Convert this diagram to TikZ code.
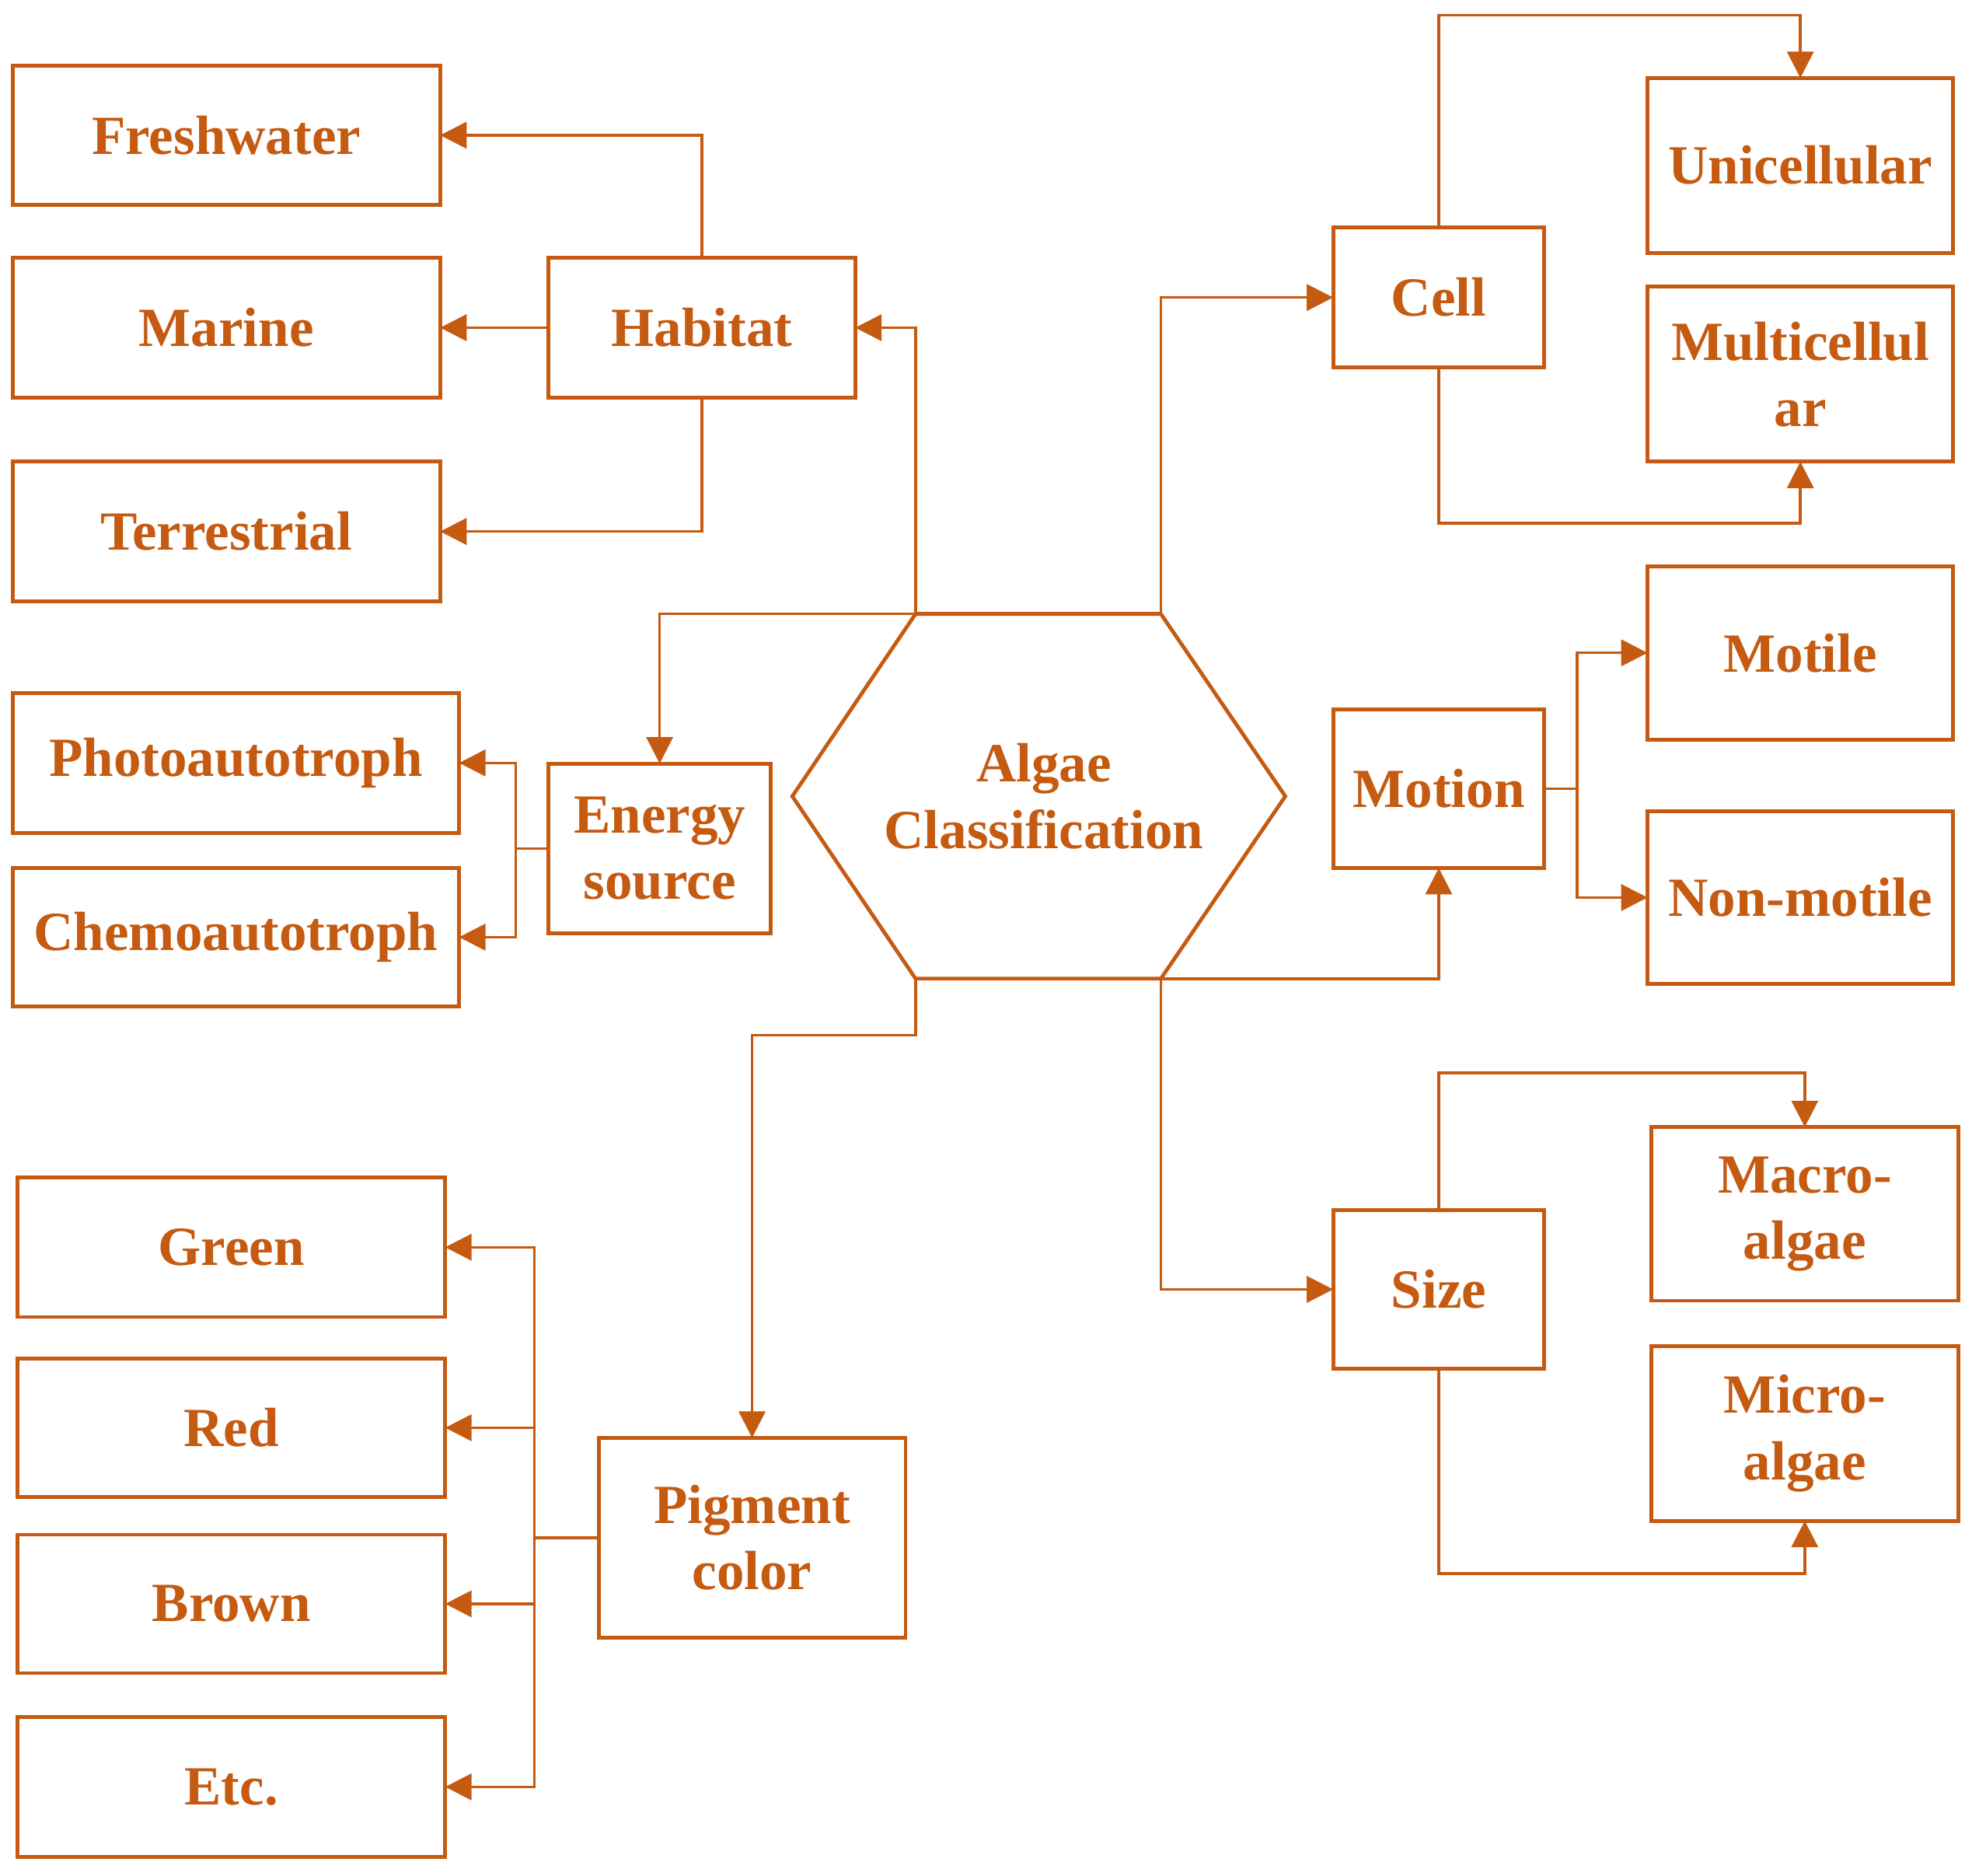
\documentclass[tikz,border=0pt]{standalone}
\usepackage{fontspec}
\setmainfont{Liberation Serif}
\usetikzlibrary{arrows.meta}
\definecolor{oc}{HTML}{C55A11}
\newcommand\mybox[6]{\node[box,minimum width=#4*0.02cm,minimum height=#5*0.02cm] (#1) at (#2,#3) {#6};}
\begin{document}
\begin{tikzpicture}[x=0.02cm,y=-0.02cm,
 box/.style={draw=oc,line width=1.7pt,inner sep=0pt,outer sep=0pt,text=oc,align=center,
   font=\fontsize{25}{30}\selectfont\bfseries},
 ln/.style={draw=oc,line width=1.2pt},
 arr/.style={ln,-{Triangle[length=0.42cm,width=0.42cm]}}]
\useasboundingbox (0,0) rectangle (1568,1491);
\mybox{fw}{180}{107.5}{340}{111}{Freshwater}
\mybox{mar}{180}{260.5}{340}{111}{Marine}
\mybox{ter}{180}{422.5}{340}{111}{Terrestrial}
\mybox{hab}{558}{260.5}{244}{111}{Habitat}
\mybox{ph}{187.5}{606.5}{355}{111}{Photoautotroph}
\mybox{ch}{187.5}{745}{355}{110}{Chemoautotroph}
\mybox{en}{524.5}{674.5}{177}{135}{Energy\\source}
\mybox{gr}{184}{991.5}{340}{111}{Green}
\mybox{red}{184}{1135}{340}{110}{Red}
\mybox{br}{184}{1275}{340}{110}{Brown}
\mybox{etc}{184}{1420.5}{340}{111}{Etc.}
\mybox{pig}{598}{1222.5}{244}{159}{Pigment\\color}
\mybox{cell}{1144}{236.5}{168}{111}{Cell}
\mybox{uni}{1431.5}{131.5}{243}{139}{Unicellular}
\mybox{mul}{1431.5}{297.5}{243}{139}{Multicellul\\ar}
\mybox{mot}{1144}{627}{168}{126}{Motion}
\mybox{motile}{1431.5}{519}{243}{138}{Motile}
\mybox{non}{1431.5}{713.5}{243}{137}{Non-motile}
\mybox{size}{1144}{1025}{168}{126}{Size}
\mybox{mac}{1435}{965}{244}{138}{Macro-\\algae}
\mybox{mic}{1435}{1139.5}{244}{139}{Micro-\\algae}
% hexagon
\coordinate (hl) at (630,633); \coordinate (htl) at (728,488); \coordinate (htr) at (923,488);
\coordinate (hr) at (1022,633); \coordinate (hbr) at (923,778); \coordinate (hbl) at (728,778);
\draw[oc,line width=1.7pt,line join=miter] (hl)--(htl)--(htr)--(hr)--(hbr)--(hbl)--cycle;
\node[box,draw=none] (hex) at (830,633) {Algae\\Classification};
% connectors
\draw[arr] (hab.north) |- (fw.east);
\draw[arr] (hab.west) -- (mar.east);
\draw[arr] (hab.south) |- (ter.east);
\draw[arr] (htl) |- (hab.east);
\draw[arr] (htl) -| (en.north);
\coordinate (ej) at (410,674.5);
\draw[ln] (en.west) -- (ej);
\draw[arr] (ej) |- (ph.east);
\draw[arr] (ej) |- (ch.east);
\coordinate (hb2) at (728,823);
\draw[arr] (hbl) -- (hb2) -| (pig.north);
\coordinate (pj) at (425,1222.5);
\draw[ln] (pig.west) -- (pj);
\draw[arr] (pj) |- (gr.east);
\draw[arr] (pj) |- (red.east);
\draw[arr] (pj) |- (br.east);
\draw[arr] (pj) |- (etc.east);
\draw[arr] (htr) |- (cell.west);
\coordinate (ct) at (1144,12); \coordinate (cb) at (1144,416);
\draw[arr] (cell.north) -- (ct) -| (uni.north);
\draw[arr] (cell.south) -- (cb) -| (mul.south);
\draw[arr] (hbr) -| (mot.south);
\coordinate (mj) at (1254,627);
\draw[ln] (mot.east) -- (mj);
\draw[arr] (mj) |- (motile.west);
\draw[arr] (mj) |- (non.west);
\draw[arr] (hbr) |- (size.west);
\coordinate (st) at (1144,853); \coordinate (sb) at (1144,1251);
\draw[arr] (size.north) -- (st) -| (mac.north);
\draw[arr] (size.south) -- (sb) -| (mic.south);
\end{tikzpicture}
\end{document}
